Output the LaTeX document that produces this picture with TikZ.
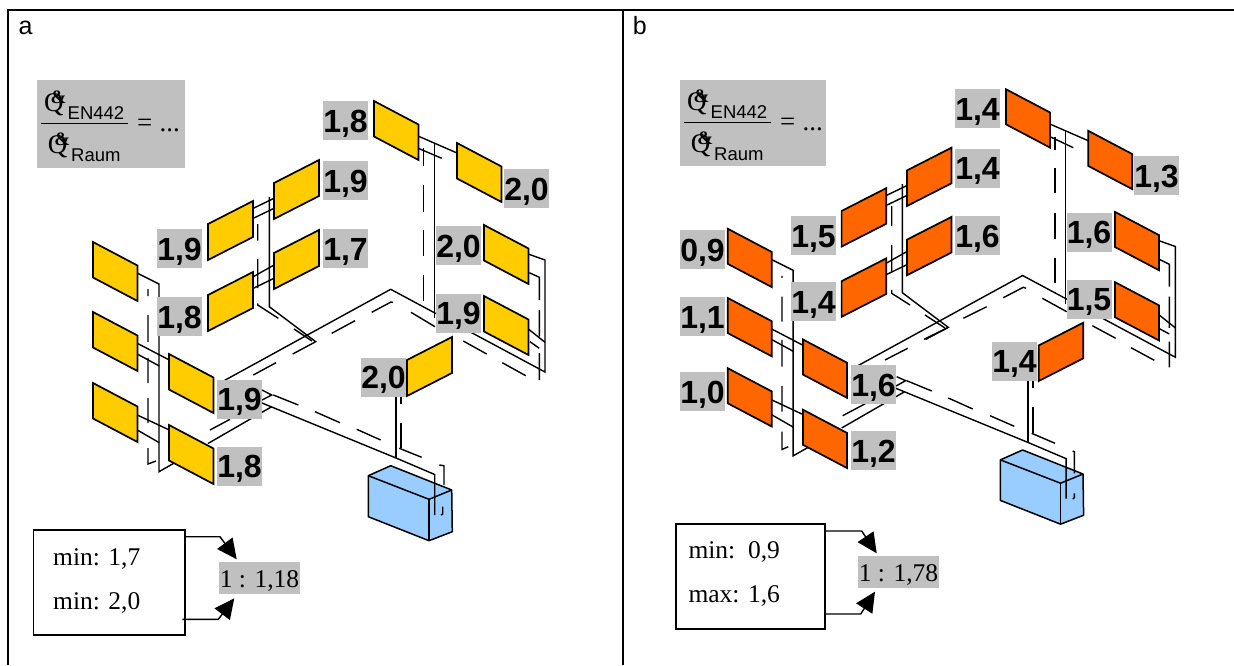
\documentclass[tikz,border=0pt]{standalone}
\usepackage{fontspec}
\setmainfont{Liberation Serif}
\newfontfamily\arialf{Liberation Sans}
\usetikzlibrary{arrows.meta}
\definecolor{lblgray}{HTML}{C0C0C0}
\definecolor{radyellow}{HTML}{FFCC00}
\definecolor{radorange}{HTML}{FF6600}
\definecolor{boxblue}{HTML}{99CCFF}
\tikzset{
  framel/.style={line width=2.4pt,black},
  pipe/.style={line width=1.4pt,black,line join=miter},
  rad/.style={line width=1.7pt,black,line join=miter},
  heat/.style={line width=1.5pt,black,fill=boxblue,line join=round},
  val/.style={fill=lblgray,inner sep=0pt,minimum width=45pt,minimum height=39pt,text height=30pt,text depth=7pt,font=\arialf\bfseries\fontsize{32}{32}\selectfont},
  ratio/.style={fill=lblgray,inner sep=0pt,text height=25pt,text depth=6pt,font=\fontsize{25.5}{26}\selectfont},
  txt/.style={anchor=base west,inner sep=0pt,font=\fontsize{25.5}{26}\selectfont},
  sans/.style={anchor=base west,inner sep=0pt,font=\arialf\fontsize{18.5}{18.5}\selectfont},
  panel/.style={anchor=base west,inner sep=0pt,font=\arialf\fontsize{25}{25}\selectfont},
  qq/.style={anchor=base west,inner sep=0pt,font=\fontsize{27}{27}\selectfont},
  arr/.style={line width=1.4pt,-{Triangle[length=20pt,width=19pt]}},
  mbox/.style={line width=1.6pt,draw,fill=white}
}
\newcommand{\qamp}{Q\kern-13pt\raisebox{8pt}{\bfseries\fontsize{19}{19}\selectfont\&}}
\newcommand{\radF}[2]{\draw[rad,fill=radcol] (#1,#2) -- ++(44.5,23.5) -- ++(0,35.5) -- ++(-44.5,-23.5) -- cycle;}
\newcommand{\radR}[2]{\draw[rad,fill=radcol] (#1,#2) -- ++(45,-23) -- ++(0,36) -- ++(-45,23) -- cycle;}
\newcommand{\network}{
  % heater
  \draw[heat] (368.3,475.7) -- (390.7,465.7) -- (451.7,490) -- (452.3,531.7) -- (429,540.7) -- (368.3,516.7) -- cycle;
  \draw[heat,fill=none] (368.3,475.7) -- (429,499.3) -- (451.7,490);
  \draw[heat,fill=none] (429,499.3) -- (429,540.7);
  % solid pipes
  \draw[pipe] (137,273) -- (159,284) -- (159,471.7) -- (176,462);
  \draw[pipe] (208,443.5) -- (271.7,406.7);
  \draw[pipe] (262,403) -- (396,458) -- (434.7,474.5) -- (434.7,515);
  \draw[pipe] (396,458) -- (396,390);
  \draw[pipe] (218,384) -- (390.7,289.3) -- (545,372) -- (545,260) -- (529,254.3);
  \draw[pipe] (529,329.5) -- (545,342.3);
  \draw[pipe] (418,136) -- (457,153);
  \draw[pipe] (434.3,142.7) -- (434.3,318.3);
  \draw[pipe] (269.3,197) -- (269.3,306.7) -- (315.7,341.7) -- (292.7,354);
  \draw[pipe] (137.3,343.3) -- (169.3,360);
  \draw[pipe] (137.3,354) -- (159.3,366);
  \draw[pipe] (137.3,415) -- (169.3,430);
  \draw[pipe] (137.3,430) -- (159.3,442.7);
  \draw[pipe] (253.3,208.3) -- (274,198.3);
  \draw[pipe] (253.3,218.3) -- (274,208.3);
  \draw[pipe] (253.3,276.7) -- (274,265);
  \draw[pipe] (253.3,288.3) -- (274,278.3);
}
\newcommand{\rads}{
  \radF{93}{242}\radF{93}{312}\radF{93}{383}
  \radF{169}{354}\radF{169}{425}
  \radR{208}{224}\radR{274}{183}\radR{208}{295}\radR{274}{253}
  \radF{374}{101}\radF{457}{143}\radF{484}{225}\radF{484}{296}
  \radR{407}{360}
}
\newcommand{\formula}[2]{
  \begin{scope}[shift={(#1,#2)}]
    \node[qq] (q1) at (44,111) {\qamp};
    \node[sans] (en) at (67.5,119) {EN442};
    \draw[line width=1pt] (41.3,123.3) -- (128.3,123.3);
    \node[qq] (q2) at (47.7,153) {\qamp};
    \node[sans] (ra) at (71,161) {Raum};
    \node[qq] (eq) at (137,131) {=};
    \node[qq] (dots) at (159.5,131) {...};
  \end{scope}
}
\begin{document}
\begin{tikzpicture}[x=1pt,y=-1pt]
\useasboundingbox (0,0) rectangle (1234,665);
% panel frame
\draw[framel] (8,665) -- (8,10) -- (1234,10);
\draw[framel] (623,10) -- (623,665);
\node[panel] (pa) at (18.3,34.3) {a};
\node[panel] (pb) at (632.7,34.3) {b};
% ===== panel a =====
\fill[lblgray] (36.7,80) rectangle (185,167.7);
\formula{0}{0}
\begin{scope}
  \colorlet{radcol}{radyellow}
  \network
  % dashed pipes a
  \draw[pipe] (148,289)--(148,296) (148,315)--(148,342) (148,358)--(148,383) (148,398)--(148,423) (148,448)--(148,464)--(156,461);
  \draw[pipe] (257.7,224)--(257.7,240.7) (257.7,259)--(257.7,288) (257.7,303.3)--(257.7,305)--(278.3,318.3);
  \draw[pipe] (294,329)--(312,341);
  \draw[pipe] (210,430)--(230,419.3) (253.3,375)--(276,362.7) (331.7,333.3)--(355,320.7) (371.7,312.3)--(391,302)--(393,302.5) (411,312.3)--(435,326.7) (463.3,341)--(486.7,354) (502.3,362.7)--(525.7,375.7);
  \draw[pipe] (262,390)--(271.7,395)--(262,400) (273.3,395)--(298.3,405) (315,411.7)--(340,422.7) (356.7,429.3)--(380.7,440) (399.3,448.3)--(421.7,457.3);
  \draw[pipe] (401,397)--(401,404) (401,423.3)--(401,448.3);
  \draw[pipe] (439.3,465)--(444,465.7)--(444,485) (442.7,506.7)--(442.7,514)--(441,515);
  \draw[pipe] (418.3,148.3)--(441.7,158.3);
  \draw[pipe] (423.7,148)--(423.7,166) (423.7,185)--(423.7,211.7) (423.7,230)--(423.7,256) (423.7,275)--(423.7,300.7);
  \draw[pipe] (529.3,272.7)--(539.3,277.3)--(539.3,300) (539.3,310)--(539.3,336.7) (539.3,353)--(539.3,380);
  \draw[pipe] (530,341.7)--(539.3,348.3);
  \rads
\end{scope}
\node[val] (a01) at (179.5,248.5) {1,9};
\node[val] (a02) at (179.5,316.5) {1,8};
\node[val] (a03) at (345.5,120.5) {1,8};
\node[val] (a04) at (345.5,180.5) {1,9};
\node[val] (a05) at (345.5,248.5) {1,7};
\node[val] (a06) at (526.5,188.5) {2,0};
\node[val] (a07) at (458.5,245.5) {2,0};
\node[val] (a08) at (458.5,313) {1,9};
\node[val] (a09) at (383.5,377) {2,0};
\node[val] (a10) at (239.5,399) {1,9};
\node[val] (a11) at (239.5,466) {1,8};
% summary a
\node[mbox,minimum width=151.7pt,minimum height=105pt,inner sep=0pt] (sa) at (109.2,582.5) {};
\draw[arr] (185,536.7) -- (220,536.7) -- (236.7,559.3);
\draw[arr] (182.3,619.3) -- (218.3,619.3) -- (234.3,598.3);
\node[txt] (sa1) at (53,565) {min: 1,7};
\node[txt] (sa2) at (53,609) {min: 2,0};
\node[ratio,minimum width=81pt,minimum height=32pt] (ra1) at (259.5,578) {1 : 1,18};
% ===== panel b =====
\fill[lblgray] (680,80) rectangle (826,165.7);
\formula{643}{-1}
\begin{scope}[shift={(635.6,-10.6)},xscale=.9905,yscale=.989]
  \colorlet{radcol}{radorange}
  \network
  \begin{scope}[xscale=1.0096,yscale=1.0111,shift={(-635.6,10.6)}]
  \draw[pipe] (782,276)--(782,278) (782,296.7)--(782,321.7) (782,340)--(782,366.7) (782,386)--(782,411.7) (782,431.7)--(782,449.5)--(788.3,446.7);
  \draw[pipe] (891.7,206)--(891.7,226) (891.7,245)--(891.7,271.7) (891.7,290)--(891.7,293.3)--(910,305);
  \draw[pipe] (925,315)--(945,328);
  \draw[pipe] (842.7,415.7)--(866,403.3) (885,360)--(907.7,348.3) (924,339.3)--(947.7,327.7) (963.3,318.3)--(986.7,306.7) (1003.3,297.7)--(1023.3,287.3)--(1026,288.3) (1042.3,298.3)--(1066.7,311.7) (1092.3,325.7)--(1115.7,338.3) (1131,347.7)--(1154.3,360.3);
  \draw[pipe] (896.7,376.7)--(905.7,380.7)--(896,386) (906.7,380.7)--(931.7,391) (948.3,398)--(972.7,409) (990,415.7)--(1014.3,426.3) (1031.7,433.3)--(1055,443.3);
  \draw[pipe] (1033,380)--(1033,388.3) (1033,407.3)--(1033,433.3);
  \draw[pipe] (1072.7,451)--(1074.3,451.7)--(1074.3,473.3) (1074.3,493.3)--(1074.3,497.7)--(1072.7,499);
  \draw[pipe] (1050,136.7)--(1073.3,147.7);
  \draw[pipe] (1055,136.7)--(1055,150) (1055,168)--(1055,193) (1055,213)--(1055,239) (1055,258)--(1055,283);
  \draw[pipe] (1158.7,259)--(1169.3,264.3)--(1169.3,286.7) (1169.3,296.7)--(1169.3,328) (1169.3,341.7)--(1169.3,367.3);
  \draw[pipe] (1158.7,328.3)--(1169.3,334);
  \end{scope}
  \rads
\end{scope}
\node[val] (b01) at (702.5,249.5) {0,9};
\node[val] (b02) at (702.5,316.5) {1,1};
\node[val] (b03) at (702.5,391.5) {1,0};
\node[val] (b04) at (813.5,235.5) {1,5};
\node[val] (b05) at (813.5,301.5) {1,4};
\node[val] (b06) at (977.5,108.5) {1,4};
\node[val] (b07) at (977.5,168) {1,4};
\node[val] (b08) at (977.5,235.5) {1,6};
\node[val] (b09) at (1156.5,175.5) {1,3};
\node[val] (b10) at (1089,232) {1,6};
\node[val] (b11) at (1089,299) {1,5};
\node[val] (b12) at (1014.5,361) {1,4};
\node[val] (b13) at (873.5,384.5) {1,6};
\node[val] (b14) at (873.5,450.5) {1,2};
% summary b
\node[mbox,minimum width=149pt,minimum height=105pt,inner sep=0pt] (sb) at (750.5,576.5) {};
\draw[arr] (825.7,531) -- (861.7,531) -- (876.7,553.3);
\draw[arr] (825.7,614) -- (860.7,614) -- (875,591.7);
\node[txt] (sb1) at (688.3,558) {min:\ \ 0,9};
\node[txt] (sb2) at (688.3,602.3) {max: 1,6};
\node[ratio,minimum width=81pt,minimum height=32pt] (rb1) at (898.5,572) {1 : 1,78};
\end{tikzpicture}
\end{document}
